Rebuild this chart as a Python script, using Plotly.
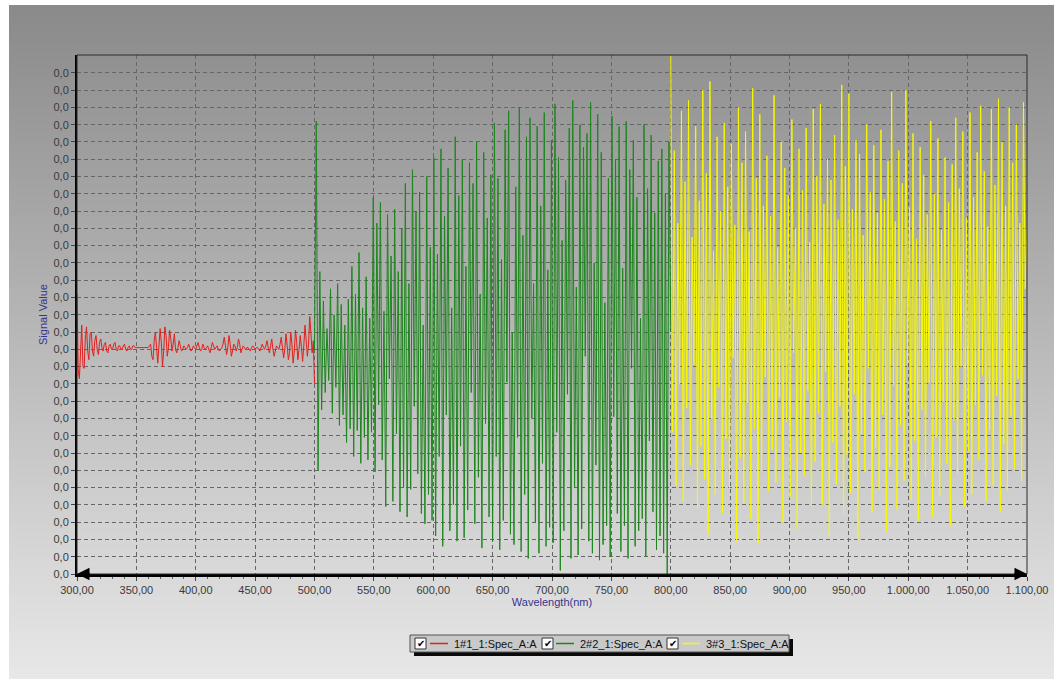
import numpy as np
import plotly.graph_objects as go

# ---------------- data (signal, in grid units) ----------------
red_start, red_end = 300.0, 500.0
red_values = [
    16.2, 11.8, 11.3, 12.5, 14.4, 12.0, 11.9, 13.6, 14.3, 12.9,
    12.4, 13.9, 14.0, 12.9, 12.6, 13.5, 13.8, 13.0, 12.7, 13.4,
    13.6, 13.1, 12.9, 13.3, 13.4, 12.9, 12.8, 13.2, 13.3, 13.0,
    13.0, 13.3, 13.4, 13.0, 12.9, 13.2, 13.2, 13.0, 13.0, 13.2,
    13.3, 13.0, 12.9, 13.1, 13.2, 13.0, 13.0, 13.2, 13.2, 13.1,
    13.1, 13.1, 13.1, 13.1, 13.1, 13.1, 13.1, 13.1, 13.1, 13.1,
    13.1, 13.2, 13.3, 12.6, 12.4, 13.5, 14.0, 13.1, 12.2, 13.2,
    14.2, 13.4, 12.0, 12.9, 14.3, 13.8, 12.6, 13.1, 14.1, 13.6,
    12.9, 13.3, 13.9, 13.0, 12.8, 13.1, 13.5, 13.2, 12.9, 13.0,
    13.2, 13.1, 13.0, 13.1, 13.3, 13.1, 12.9, 13.0, 13.2, 13.1,
    13.0, 13.2, 13.4, 13.1, 12.9, 13.0, 13.3, 13.1, 13.0, 13.1,
    13.2, 13.0, 12.8, 13.1, 13.4, 13.2, 13.0, 13.1, 13.2, 13.0,
    12.9, 13.0, 13.1, 13.3, 13.7, 13.2, 12.7, 13.1, 13.8, 13.3,
    12.6, 12.9, 13.3, 13.2, 12.9, 13.1, 13.6, 13.3, 12.8, 13.0,
    13.2, 13.1, 13.0, 13.1, 13.1, 13.0, 12.9, 13.1, 13.2, 13.1,
    13.0, 13.1, 13.1, 13.0, 12.9, 13.1, 13.3, 13.1, 13.0, 13.2,
    13.5, 13.1, 12.8, 13.2, 13.6, 13.0, 12.6, 12.9, 13.2, 13.1,
    13.0, 13.3, 13.7, 13.1, 12.5, 13.0, 13.9, 13.2, 12.4, 12.8,
    14.0, 13.3, 12.2, 12.9, 14.1, 13.4, 12.4, 13.0, 13.8, 13.1,
    12.3, 13.2, 14.4, 13.5, 12.6, 13.3, 14.9, 13.9, 12.8, 13.5,
    11.0,
]

green_start, green_end = 500.0, 800.0
green_values = [
    13.0, 26.2, 6.0, 17.5, 9.5,
    15.8, 10.5, 14.2, 11.2, 16.5, 9.3, 15.0, 10.8, 16.8, 8.6, 15.6, 9.2, 14.4, 7.6, 15.9, 8.4,
    17.8, 6.8, 16.2, 8.3, 18.6, 6.4, 15.4, 7.9, 17.2, 6.6, 14.8, 8.2, 21.8,
    5.9, 20.3, 9.8, 21.5, 6.6, 15.2, 3.9, 20.8, 11.3, 18.4, 4.2, 21.1, 8.1, 17.5, 3.6, 20.0, 5.0,
    22.6, 3.3, 16.8, 4.9, 23.4, 9.7, 21.0, 5.8, 22.1, 3.5, 14.4, 2.9, 23.0, 4.6, 18.9, 3.1,
    24.1, 2.2, 18.5, 6.8, 24.6, 1.6, 20.7, 9.2, 23.5, 2.5, 15.4, 4.0, 25.3, 1.9, 21.9, 7.4, 24.0,
    2.1, 17.8, 3.7, 23.8, 10.5, 22.6, 2.9, 25.0, 5.6, 16.2, 1.5, 24.4, 8.7, 20.6, 3.3, 23.1, 1.9,
    26.1, 6.8, 22.9, 1.4, 18.2, 3.1, 25.7, 11.1, 26.8, 2.3, 14.0, 1.7, 22.4, 7.9, 27.0, 1.3, 19.6,
    4.6, 25.3, 0.9, 26.4, 9.0, 16.8, 3.0, 25.9, 1.2, 21.3, 6.4, 26.7, 1.6, 17.6, 2.7, 25.1,
    1.8, 27.2, 8.2, 24.1, 0.2, 19.3, 2.5, 22.8, 10.4, 25.8, 0.9, 27.4, 5.0, 16.6, 1.1, 26.0, 2.6,
    24.7, 12.6, 25.5, 1.9, 27.3, 1.2, 18.0, 6.3, 26.6, 0.8, 24.4, 1.7, 15.7, 2.8, 22.9, 1.0,
    26.5, 9.1, 24.0, 3.5, 25.9, 1.3, 17.7, 2.8, 26.2, 0.9, 23.4, 11.9, 25.1, 1.6, 21.8, 2.5, 14.8,
    3.2, 26.0, 1.0, 22.3, 7.7, 25.4, 3.6, 20.9, 1.4, 23.9, 2.2, 24.6, 1.2, 22.0, 0.0, 25.0, 14.0,
]

yellow_start, yellow_end = 800.0, 1100.0
yellow_values = [
    30.0, 8.2, 24.5, 5.1, 20.3, 11.0, 26.8, 4.2, 22.7, 9.6,
    27.4, 6.3, 19.5, 12.1, 25.9, 3.8, 21.6, 7.4, 28.0, 5.5,
    23.2, 2.3, 28.5, 9.0, 18.7, 4.6, 25.3, 10.8, 21.0, 3.5,
    26.1, 7.8, 22.4, 5.0, 24.9, 12.5, 20.2, 1.9, 27.0, 6.7,
    23.8, 4.1, 25.6, 9.9, 19.8, 3.2, 28.1, 8.4, 22.9, 1.8,
    26.6, 6.0, 21.3, 11.4, 24.2, 4.8, 20.7, 7.2, 27.7, 5.3,
    18.9, 10.2, 25.0, 3.0, 23.5, 8.8, 21.9, 4.4, 26.3, 12.8,
    20.0, 2.6, 24.6, 7.0, 22.2, 5.7, 25.8, 10.6, 19.2, 3.9,
    26.9, 6.5, 23.0, 9.3, 27.2, 4.0, 21.4, 11.7, 24.0, 2.2,
    22.8, 7.6, 25.4, 5.2, 20.5, 9.7, 28.3, 3.4, 23.6, 6.9,
    27.8, 4.7, 21.1, 10.4, 25.1, 2.0, 24.3, 8.1, 19.6, 5.9,
    26.0, 11.9, 22.1, 3.6, 24.8, 7.3, 20.9, 4.9, 25.7, 9.2,
    21.7, 2.5, 23.9, 6.2, 27.9, 10.9, 20.4, 3.7, 24.5, 8.6,
    22.6, 5.4, 28.0, 12.2, 21.2, 4.3, 25.5, 7.7, 19.4, 3.1,
    24.7, 9.5, 23.1, 5.6, 20.8, 11.1, 26.2, 3.3, 22.0, 7.9,
    25.2, 4.5, 19.9, 10.0, 24.1, 6.4, 21.5, 2.8, 23.7, 8.9,
    26.4, 5.8, 22.3, 12.0, 25.6, 3.9, 20.6, 7.1, 26.7, 4.6,
    21.8, 9.8, 24.4, 6.6, 27.1, 11.5, 23.3, 4.2, 20.1, 8.3,
    26.9, 5.1, 22.5, 10.3, 27.5, 3.6, 25.0, 7.5, 21.3, 4.8,
    27.0, 9.1, 23.8, 6.1, 26.0, 11.3, 20.3, 5.4, 27.3, 16.5,
    20.0,
]

series_names = ["1#1_1:Spec_A:A", "2#2_1:Spec_A:A", "3#3_1:Spec_A:A"]
series_colors = ["#e3201c", "#1d861d", "#f8f800"]

x_tickvals = [300, 350, 400, 450, 500, 550, 600, 650, 700, 750, 800, 850, 900, 950, 1000, 1050, 1100]
x_ticktext = ["300,00", "350,00", "400,00", "450,00", "500,00", "550,00", "600,00", "650,00",
              "700,00", "750,00", "800,00", "850,00", "900,00", "950,00", "1.000,00",
              "1.050,00", "1.100,00"]
y_tickvals = list(range(30))
y_ticktext = ["0,0"] * 30

# ---------------- layout geometry (pixels) ----------------
W, H = 1054, 679
L, R, T, B = 77, 27, 55, 105
PW, PH = W - L - R, H - T - B


def px(xp):
    return (xp - L) / PW


def py(yp):
    return (H - B - yp) / PH


fig = go.Figure()

for (start, end, vals), name, col in zip(
        [(red_start, red_end, red_values), (green_start, green_end, green_values),
         (yellow_start, yellow_end, yellow_values)], series_names, series_colors):
    xs = np.linspace(start, end, len(vals))
    fig.add_trace(go.Scatter(x=xs, y=vals, mode="lines", name=name,
                             line=dict(color=col, width=1), showlegend=False))

shapes = []
# gradient background (whole gray panel)
top_c, bot_c = 0x8a, 0xe8
y0p, y1p = 5, H
band = 4
for yb in range(y0p, y1p, band):
    t = (yb - y0p) / (y1p - y0p)
    c = int(round(top_c + (bot_c - top_c) * t))
    shapes.append(dict(type="rect", xref="paper", yref="paper", layer="below",
                       x0=px(9), x1=px(W + 2), y0=py(yb + band + 0.5), y1=py(yb),
                       fillcolor=f"rgb({c},{c},{c})", line=dict(width=0)))
# plot border (top/right)
shapes.append(dict(type="rect", xref="paper", yref="paper", layer="above",
                   x0=0, x1=1, y0=0, y1=1, line=dict(color="#2b2b2b", width=1)))

# legend box (drawn)
lx0, lx1, ly0, ly1 = 410, 789, 635, 652
shapes.append(dict(type="rect", xref="paper", yref="paper", x0=px(lx0 + 4), x1=px(lx1 + 4),
                   y0=py(ly1 + 4), y1=py(ly0 + 4), fillcolor="#0a0a0a", line=dict(width=0)))
shapes.append(dict(type="rect", xref="paper", yref="paper", x0=px(lx0), x1=px(lx1),
                   y0=py(ly1), y1=py(ly0), fillcolor="#c9c9c9", line=dict(color="#555555", width=1)))

annotations = []
item_x = [(415, 430, 452), (542, 556, 578), (667, 682, 704)]
ym = (ly0 + ly1) / 2
for (cb, ln, tx), name, col in zip(item_x, series_names, series_colors):
    shapes.append(dict(type="rect", xref="paper", yref="paper", x0=px(cb), x1=px(cb + 11),
                       y0=py(ym + 5.5), y1=py(ym - 5.5), fillcolor="white",
                       line=dict(color="#333333", width=1)))
    annotations.append(dict(xref="paper", yref="paper", x=px(cb + 5.5), y=py(ym), text="✔",
                            showarrow=False, font=dict(size=10, color="black", family="DejaVu Sans"),
                            xanchor="center", yanchor="middle"))
    shapes.append(dict(type="line", xref="paper", yref="paper", x0=px(ln), x1=px(ln + 18),
                       y0=py(ym), y1=py(ym), layer="above", line=dict(color=col, width=1.5)))
    annotations.append(dict(xref="paper", yref="paper", x=px(tx), y=py(ym + 0.5), text=name,
                            showarrow=False, xanchor="left", yanchor="middle",
                            font=dict(size=11, color="#111111", family="Liberation Sans, Arial")))

# arrows on x axis
annotations.append(dict(x=1100, y=0, xref="x", yref="y", ax=-14, ay=0, showarrow=True,
                        arrowhead=2, arrowsize=1.0, arrowwidth=2.5, arrowcolor="black", text=""))
annotations.append(dict(x=300, y=0, xref="x", yref="y", ax=14, ay=0, showarrow=True,
                        arrowhead=2, arrowsize=1.0, arrowwidth=2.5, arrowcolor="black", text=""))

tickfont = dict(family="Liberation Sans, Arial", size=11, color="#3a3a3a")
titlefont = dict(family="Liberation Sans, Arial", size=11, color="#35358f")

fig.update_layout(
    width=W, height=H,
    margin=dict(l=L, r=R, t=T, b=B, autoexpand=False),
    paper_bgcolor="white", plot_bgcolor="rgba(0,0,0,0)",
    shapes=shapes, annotations=annotations, showlegend=False,
    xaxis=dict(range=[300, 1100], tickvals=x_tickvals, ticktext=x_ticktext,
               showgrid=True, gridcolor="#666666", griddash="4px,3px", gridwidth=1,
               showline=True, linecolor="black", linewidth=2.5,
               ticks="outside", ticklen=4, tickcolor="#444", tickfont=tickfont,
               minor=dict(dtick=10, ticks="outside", ticklen=2, tickcolor="#666", showgrid=False),
               title=dict(text="Wavelength(nm)", font=titlefont, standoff=2),
               zeroline=False, automargin=False),
    yaxis=dict(range=[0, 30.03], tickvals=y_tickvals, ticktext=y_ticktext,
               showgrid=True, gridcolor="#666666", griddash="4px,3px", gridwidth=1,
               showline=True, linecolor="black", linewidth=2,
               ticks="outside", ticklen=4, tickcolor="#444", tickfont=tickfont,
               title=dict(text="Signal Value", font=titlefont, standoff=4),
               zeroline=False, automargin=False),
)

fig.write_html("out.html")
